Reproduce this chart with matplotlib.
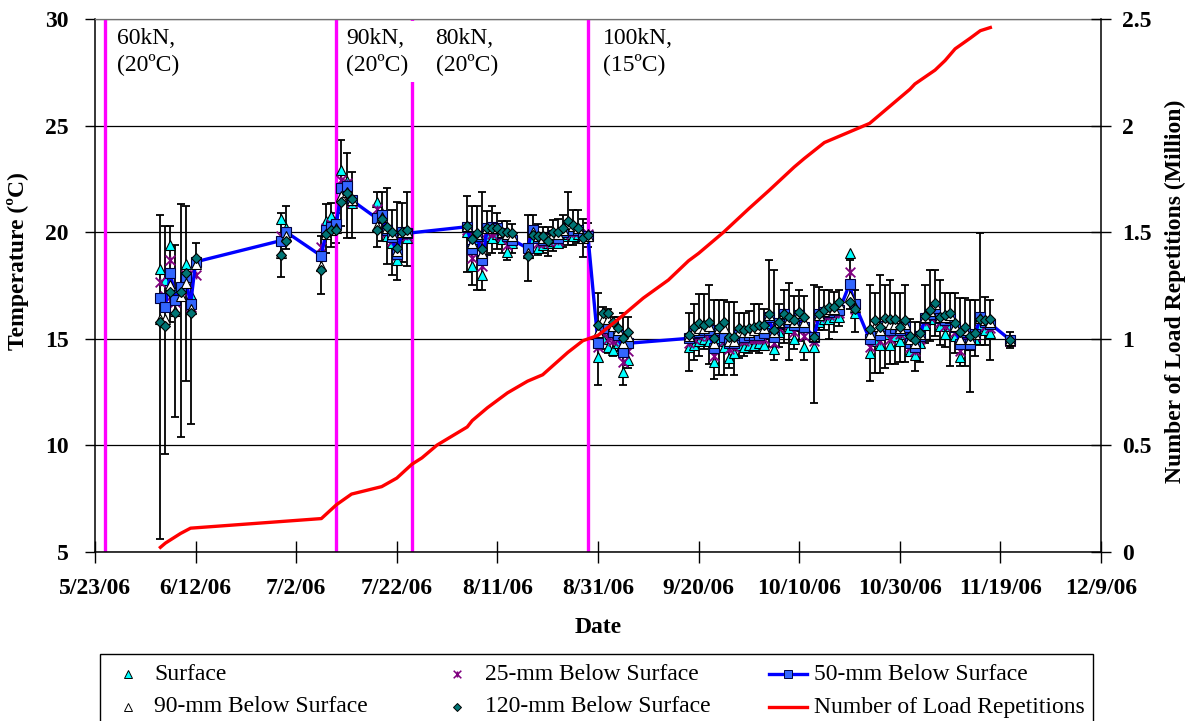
import numpy as np
import pandas as pd
import matplotlib
matplotlib.use("Agg")
import matplotlib.pyplot as plt
from matplotlib.lines import Line2D
from matplotlib.patches import Rectangle
from matplotlib.path import Path

plt.rcParams['font.family'] = ['Liberation Serif', 'DejaVu Serif']

# ---------------------------------------------------------------- data
obs_dates = [
    "6/5/06", "6/6/06", "6/7/06", "6/8/06", "6/9/06", "6/10/06", "6/11/06", "6/12/06",
    "6/29/06", "6/30/06", "7/7/06", "7/8/06", "7/9/06", "7/10/06", "7/11/06", "7/12/06",
    "7/13/06", "7/18/06", "7/19/06", "7/20/06", "7/21/06", "7/22/06", "7/23/06", "7/24/06",
    "8/5/06", "8/6/06", "8/7/06", "8/8/06", "8/9/06", "8/10/06", "8/11/06", "8/12/06",
    "8/13/06", "8/14/06", "8/17/06", "8/18/06", "8/19/06", "8/20/06", "8/21/06", "8/22/06",
    "8/23/06", "8/24/06", "8/25/06", "8/26/06", "8/27/06", "8/28/06", "8/29/06",
    "8/31/06", "9/1/06", "9/2/06", "9/3/06", "9/4/06", "9/5/06", "9/6/06",
    "9/18/06", "9/19/06", "9/20/06", "9/21/06", "9/22/06", "9/23/06", "9/24/06", "9/25/06",
    "9/26/06", "9/27/06", "9/28/06", "9/29/06", "9/30/06",
    "10/1/06", "10/2/06", "10/3/06", "10/4/06", "10/5/06", "10/6/06", "10/7/06", "10/8/06",
    "10/9/06", "10/10/06", "10/11/06",
    "10/13/06", "10/14/06", "10/15/06", "10/16/06", "10/17/06", "10/18/06",
    "10/20/06", "10/21/06",
    "10/24/06", "10/25/06", "10/26/06", "10/27/06", "10/28/06", "10/29/06", "10/30/06", "10/31/06",
    "11/1/06", "11/2/06", "11/3/06", "11/4/06", "11/5/06", "11/6/06", "11/7/06", "11/8/06",
    "11/9/06", "11/10/06", "11/11/06", "11/12/06", "11/13/06", "11/14/06", "11/15/06",
    "11/16/06", "11/17/06",
    "11/21/06",
]

t_surface = [
    18.25, 17.75, 19.4, 17.2, 17.5, 18.5, 17.05, 18.7,
    20.6, 20.2, 19.1, 20.5, 20.75, 20.5, 22.9, 22.4, 21.36, 21.43, 20.9, 19.8, 19.5, 18.7, 19.9, 19.7,
    20.0, 18.4, 19.6, 18.0, 19.8, 19.7, 19.9, 19.68, 19.08, 19.5,
    19.0, 19.7, 19.25, 19.4, 19.5, 19.6, 19.5, 19.8, 19.9, 19.8, 19.9, 19.9, 19.9,
    14.15, 15.0, 14.6, 14.46, 14.8, 13.45, 14.0,
    14.6, 14.7, 14.9, 15.0, 14.9, 13.9, 14.9, 14.6, 14.1, 14.3, 14.7, 14.6, 14.7,
    14.7, 14.8, 14.7, 15.5, 14.5, 15.3, 15.7, 15.5, 15.0, 15.6, 14.6,
    14.6, 15.8, 15.9, 15.9, 16.0, 16.0,
    19.0, 16.2,
    14.34, 14.9, 14.7, 15.2, 14.7, 15.1, 14.9, 15.2,
    14.4, 14.23, 14.8, 15.64, 15.9, 16.1, 15.6, 15.2, 15.6, 15.1, 14.12, 14.9, 14.7, 15.0, 15.6, 15.4, 15.28,
    14.9,
]

t_25mm = [
    17.67, 17.0, 18.7, 16.7, 17.3, 18.0, 16.5, 18.0,
    19.8, 20.0, 19.3, 20.2, 20.4, 20.4, 22.45, 22.3, 21.4, 21.1, 20.7, 20.0, 19.6, 18.9, 19.9, 19.8,
    20.1, 18.8, 19.7, 18.4, 20.0, 19.9, 20.0, 19.8, 19.4, 19.6,
    19.1, 19.9, 19.5, 19.5, 19.6, 19.7, 19.6, 19.9, 20.0, 20.0, 20.0, 19.8, 19.9,
    14.6, 15.3, 15.0, 14.9, 15.0, 13.9, 14.4,
    14.8, 15.0, 15.1, 15.2, 15.1, 14.2, 15.1, 14.9, 14.5, 14.6, 15.0, 14.9, 15.0,
    15.0, 15.0, 15.0, 15.8, 14.8, 15.5, 15.9, 15.7, 15.3, 15.9, 15.1,
    14.9, 16.0, 16.1, 16.1, 16.2, 16.2,
    18.12, 16.4,
    14.62, 15.1, 14.9, 15.4, 15.0, 15.3, 15.2, 15.4,
    14.6, 14.4, 15.0, 15.8, 16.0, 16.3, 15.8, 15.6, 15.8, 15.3, 14.4, 15.1, 14.8, 15.1, 15.8, 15.6, 15.5,
    14.9,
]

t_50mm = [
    16.89, 16.5, 18.1, 16.8, 17.4, 17.9, 16.6, 18.6,
    19.6, 20.0, 18.88, 20.1, 20.25, 20.38, 22.06, 22.16, 21.5, 20.65, 20.8, 20.1, 19.75, 18.97, 20.0, 19.94,
    20.25, 19.2, 19.8, 18.7, 20.18, 20.25, 20.18, 19.94, 19.8, 19.63,
    19.24, 20.1, 19.7, 19.63, 19.7, 19.86, 19.7, 20.0, 20.2, 20.1, 20.1, 19.8, 19.8,
    14.78, 15.56, 15.48, 15.32, 15.17, 14.38, 14.78,
    15.01, 15.24, 15.32, 15.40, 15.40, 14.54, 15.40, 15.08, 14.78, 14.78, 15.17, 15.08, 15.17,
    15.17, 15.17, 15.24, 16.0, 15.08, 15.72, 16.15, 15.8, 15.64, 16.09, 15.56,
    15.08, 16.15, 16.25, 16.25, 16.33, 16.33,
    17.56, 16.64,
    14.97, 15.33, 15.17, 15.6, 15.40, 15.48, 15.40, 15.56,
    14.78, 14.6, 15.1, 15.95, 16.15, 16.45, 15.95, 15.87, 15.95, 15.56, 14.73, 15.3, 14.73, 15.2, 16.0, 15.8, 15.69,
    14.93,
]

t_90mm = [
    15.9, 15.9, 17.5, 16.3, 17.0, 17.6, 16.4, 18.5,
    19.0, 19.8, 18.4, 19.9, 20.1, 20.2, 21.7, 21.9, 21.5, 20.3, 20.7, 20.2, 19.9, 19.1, 20.0, 20.0,
    20.3, 19.5, 19.9, 19.0, 20.2, 20.2, 20.2, 20.0, 19.9, 19.8,
    19.0, 20.0, 19.8, 19.7, 19.7, 19.9, 19.9, 20.1, 20.4, 20.3, 20.2, 19.7, 19.8,
    15.3, 15.9, 15.9, 15.6, 15.4, 14.8, 15.1,
    15.1, 15.4, 15.5, 15.5, 15.6, 14.8, 15.5, 15.5, 14.9, 14.9, 15.3, 15.3, 15.3,
    15.4, 15.5, 15.5, 16.1, 15.3, 15.8, 16.2, 15.9, 15.8, 16.2, 15.8,
    15.1, 16.1, 16.3, 16.4, 16.4, 16.6,
    17.0, 16.5,
    15.2, 15.6, 15.4, 15.8, 15.7, 15.7, 15.5, 15.7,
    15.0, 14.8, 15.2, 16.0, 16.3, 16.6, 16.0, 16.0, 16.1, 15.6, 15.0, 15.4, 15.0, 15.2, 15.95, 15.85, 15.8,
    14.93,
]

t_120mm = [
    15.8, 15.6, 17.2, 16.2, 17.2, 18.1, 16.2, 18.8,
    18.9, 19.6, 18.2, 19.9, 20.1, 20.1, 21.43, 21.85, 21.55, 20.1, 20.6, 20.25, 20.0, 19.24, 20.0, 20.1,
    20.29, 19.66, 19.95, 19.2, 20.2, 20.2, 20.2, 20.0, 20.0, 19.94,
    18.88, 19.86, 19.8, 19.8, 19.6, 20.0, 20.0, 20.18, 20.5, 20.33, 20.2, 19.7, 19.86,
    15.64, 16.19, 16.2, 15.8, 15.5, 15.01, 15.32,
    15.15, 15.56, 15.72, 15.64, 15.8, 15.01, 15.56, 15.8, 15.08, 15.08, 15.5, 15.40, 15.48,
    15.56, 15.64, 15.64, 16.15, 15.40, 15.8, 16.15, 16.0, 15.87, 16.25, 15.99,
    15.08, 16.15, 16.33, 16.49, 16.49, 16.72,
    16.72, 16.37,
    15.44, 15.85, 15.56, 15.95, 15.9, 15.9, 15.56, 15.87,
    15.1, 14.93, 15.25, 16.06, 16.35, 16.69, 16.03, 16.11, 16.19, 15.72, 15.33, 15.56, 15.12, 15.25, 15.9, 15.87, 15.9,
    14.93,
]

# daily minimum / maximum at 50 mm depth
t_min = [
    5.6, 9.6, 15.8, 11.3, 10.4, 13.0, 11.0, 18.3,
    17.9, 19.2, 17.1, 19.0, 19.3, 19.5, 20.3, 19.7, 19.7, 19.3, 19.6, 18.5, 17.98, 17.75, 18.6, 18.4,
    18.14, 17.5, 17.3, 17.3, 18.9, 19.0, 19.2, 19.0, 18.7, 19.0,
    17.72, 19.0, 18.9, 19.0, 18.88, 19.1, 19.24, 19.3, 19.4, 19.4, 19.5, 18.84, 19.3,
    12.8, 14.5, 14.3, 14.2, 14.4, 12.82, 13.6,
    13.5, 14.0, 14.2, 14.5, 13.8, 13.1, 13.3, 13.3, 13.6, 13.3, 14.1, 14.2, 14.3,
    14.4, 14.3, 14.5, 14.6, 14.0, 14.6, 14.8, 14.0, 14.5, 14.9, 14.0,
    11.96, 15.4, 15.4, 15.0, 15.3, 15.6,
    16.4, 15.3,
    13.0, 13.4, 13.4, 13.6, 13.8, 13.8, 13.9, 13.9,
    14.2, 13.5, 13.9, 14.8, 14.9, 15.1, 14.7, 14.6, 13.7, 14.3, 13.7, 13.7, 12.5, 14.2, 14.7, 14.7, 14.0,
    14.55,
]

t_max = [
    20.8, 20.3, 20.3, 19.4, 21.3, 21.2, 17.8, 19.5,
    20.9, 21.2, 19.8, 21.3, 21.35, 20.9, 24.3, 23.7, 22.8, 21.9, 21.9, 22.07, 21.03, 21.4, 21.35, 21.9,
    21.7, 21.2, 21.2, 21.9, 21.0, 21.2, 20.9, 20.5, 20.5, 20.4,
    20.8, 20.8, 20.4, 20.25, 20.25, 20.56, 20.6, 20.8, 21.9, 21.03, 21.03, 20.6, 20.42,
    17.13, 16.5, 16.4, 16.0, 16.0, 16.19, 16.0,
    16.2, 16.6, 17.1, 17.1, 17.5, 16.8, 16.8, 16.8, 16.7, 16.7, 16.2, 16.2, 16.3,
    16.6, 16.6, 16.4, 18.7, 18.2, 16.6, 17.3, 17.6, 17.0, 17.3, 17.0,
    17.5, 17.4, 17.3, 17.3, 17.2, 17.3,
    18.7, 17.3,
    17.5, 17.13, 18.0, 17.5, 17.75, 17.13, 17.13, 17.5,
    15.9, 15.8, 15.8, 17.52, 18.2, 18.2, 17.75, 17.13, 17.13, 17.13, 16.9, 16.9, 16.8, 16.8, 19.94, 16.95, 16.8,
    15.33,
]

load_dates = [
    "6/5/06", "6/6/06", "6/7/06", "6/8/06", "6/9/06", "6/11/06",
    "7/7/06", "7/10/06", "7/13/06", "7/19/06", "7/22/06", "7/25/06", "7/27/06", "7/30/06",
    "8/5/06", "8/6/06", "8/9/06", "8/13/06", "8/17/06", "8/20/06", "8/25/06", "8/28/06", "8/31/06",
    "9/4/06", "9/9/06", "9/14/06", "9/18/06", "9/20/06", "9/25/06", "9/30/06",
    "10/4/06", "10/9/06", "10/11/06", "10/15/06", "10/18/06", "10/24/06", "10/26/06",
    "11/1/06", "11/2/06", "11/6/06", "11/8/06", "11/10/06", "11/13/06", "11/15/06", "11/17/06",
]
load_million = [
    0.02, 0.04, 0.055, 0.07, 0.085, 0.11,
    0.155, 0.22, 0.27, 0.305, 0.345, 0.41, 0.44, 0.50,
    0.585, 0.615, 0.675, 0.745, 0.80, 0.83, 0.935, 0.99, 1.015,
    1.09, 1.19, 1.275, 1.365, 1.40, 1.50, 1.61,
    1.695, 1.805, 1.845, 1.92, 1.95, 2.01, 2.05,
    2.17, 2.195, 2.26, 2.305, 2.36, 2.41, 2.445, 2.46,
]

phase_change_dates = ["5/25/06", "7/10/06", "7/25/06", "8/29/06"]
phase_labels = ["60kN,\n(20ºC)", "90kN,\n(20ºC)", "80kN,\n(20ºC)", "100kN,\n(15ºC)"]

series_names = ["Surface", "25-mm Below Surface", "50-mm Below Surface",
                "90-mm Below Surface", "120-mm Below Surface", "Number of Load Repetitions"]

x_start, x_end = "5/23/06", "12/9/06"
temp_ticks = [5, 10, 15, 20, 25, 30]
load_ticks = [0, 0.5, 1, 1.5, 2, 2.5]
load_tick_labels = ["0", "0.5", "1", "1.5", "2", "2.5"]

# ---------------------------------------------------------------- styling
FS = 17
CYAN = "#00FFFF"
PURPLE = "#800080"
BLUE_LINE = "#0000FF"
BLUE_FILL = "#3366FF"
TEAL = "#007575"
MAGENTA = "#FF00FF"
RED = "#FF0000"

# Excel-style asterisk: an X with a short vertical stroke
star = Path([(-1, -1), (1, 1), (-1, 1), (1, -1), (0, -0.8), (0, 0.8)],
            [Path.MOVETO, Path.LINETO, Path.MOVETO, Path.LINETO, Path.MOVETO, Path.LINETO])


def to_dt(values):
    return pd.to_datetime(values, format="%m/%d/%y")


x = to_dt(obs_dates)
t50 = np.array(t_50mm)
err = [np.maximum(t50 - np.array(t_min), 0), np.maximum(np.array(t_max) - t50, 0)]

W, H = 1189, 721
fig = plt.figure(figsize=(W / 100, H / 100), dpi=100)
ax_l, ax_r, ax_t, ax_b = 95, 1101, 19, 551.6
ax = fig.add_axes([ax_l / W, 1 - ax_b / H, (ax_r - ax_l) / W, (ax_b - ax_t) / H])

# horizontal grid
ax.set_ylim(5, 30)
ax.set_yticks(temp_ticks)
ax.grid(axis="y", color="black", lw=0.9, zorder=0)
ax.set_axisbelow(True)

# phase boundaries
for d in to_dt(phase_change_dates):
    ax.axvline(d, color=MAGENTA, lw=2.4, zorder=2.2)

ax.errorbar(x, t50, yerr=err, fmt="none", ecolor="black", elinewidth=1.3,
            capsize=3.2, capthick=1.3, zorder=2)
ax.plot(x, t_surface, ls="none", marker="^", ms=7.5, mfc=CYAN, mec="black", mew=0.8, zorder=3)
ax.plot(x, t_25mm, ls="none", marker=star, ms=7, color=PURPLE, mew=1.3, zorder=4)
ax.plot(x, t_50mm, "-", color=BLUE_LINE, lw=2.4, marker="s", ms=6.5, mfc=BLUE_FILL,
        mec="#000040", mew=0.8, zorder=5)
ax.plot(x, t_90mm, ls="none", marker="^", ms=6.5, mfc="white", mec="black", mew=0.8, zorder=6)
ax.plot(x, t_120mm, ls="none", marker="D", ms=5.2, mfc=TEAL, mec="black", mew=0.8, zorder=7)

# load phase annotations (drawn under the axes frame so the top border stays visible)
label_offsets_days = [2.4, 1.9, 4.7, 3.0]
for d, off, lab in zip(to_dt(phase_change_dates), label_offsets_days, phase_labels):
    kw = {}
    if lab.startswith("90"):
        kw["bbox"] = dict(facecolor="white", edgecolor="none", boxstyle="square,pad=0.3")
    ax.text(d + pd.Timedelta(days=off), 0.983, lab, transform=ax.get_xaxis_transform(),
            ha="left", va="top", fontsize=FS, linespacing=1.25, zorder=2.4, **kw)

# x axis
ax.set_xlim(to_dt([x_start])[0], to_dt([x_end])[0])
xt = pd.date_range(to_dt([x_start])[0], to_dt([x_end])[0], freq="20D")
ax.set_xticks(xt)
ax.set_xticklabels([f"{d.month}/{d.day}/{d:%y}" for d in xt], fontsize=FS, fontweight="bold")
ax.set_yticklabels([str(v) for v in temp_ticks], fontsize=FS, fontweight="bold")
ax.tick_params(axis="x", direction="inout", length=16, width=1, pad=11)
ax.tick_params(axis="y", direction="out", length=7, width=1, pad=12)
for s in ("left", "bottom"):
    ax.spines[s].set_linewidth(1.1)
ax.spines["top"].set_color("#707070")
ax.spines["top"].set_linewidth(0.9)
ax.spines["right"].set_visible(False)

ax.set_xlabel("Date", fontsize=FS, fontweight="bold")
ax.xaxis.set_label_coords(0.5, -0.1434)
ax.xaxis.label.set_va("center")
ax.set_ylabel("Temperature (ºC)", fontsize=FS, fontweight="bold")
ax.yaxis.set_label_coords(-0.0765, 0.545)
ax.yaxis.label.set_va("center")

# load repetitions on the secondary axis
ax2 = ax.twinx()
ax2.plot(to_dt(load_dates), load_million, color=RED, lw=2.4, zorder=5)
ax2.set_ylim(0, 2.5)
ax2.set_yticks(load_ticks)
ax2.set_yticklabels(load_tick_labels, fontsize=FS, fontweight="bold")
ax2.tick_params(axis="y", direction="inout", length=14, width=1, pad=8)
for s in ("left", "top", "bottom"):
    ax2.spines[s].set_visible(False)
ax2.spines["right"].set_linewidth(1.1)
ax2.set_ylabel("Number of Load Repetitions (Million)", fontsize=FS, fontweight="bold",
               rotation=90)
ax2.yaxis.set_label_coords(1.0736, 0.489)
ax2.yaxis.label.set_va("center")

# ---------------------------------------------------------------- legend
def fx(px):
    return px / W


def fy(py):
    return 1 - py / H


fig.patches.append(Rectangle((fx(100), fy(760)), fx(1093) - fx(100), fy(654) - fy(760),
                             transform=fig.transFigure, fill=False, edgecolor="black",
                             lw=1.0, clip_on=False))

row_y = [674, 707]
col_marker_x = [128, 457, 788]
col_text_x = [154, 485, 814]
handles = [
    dict(marker="^", ms=5.5, mfc=CYAN, mec="black", mew=0.7, ls="none"),
    dict(marker=star, ms=5.5, color=PURPLE, mew=1.1, ls="none"),
    dict(marker="s", ms=5.5, mfc=BLUE_FILL, mec="#000040", mew=0.7, color=BLUE_LINE, lw=2.4),
    dict(marker="^", ms=5.5, mfc="white", mec="black", mew=0.7, ls="none"),
    dict(marker="D", ms=4.5, mfc=TEAL, mec="black", mew=0.7, ls="none"),
    dict(color=RED, lw=2.4),
]
order = [(0, 0), (0, 1), (0, 2), (1, 0), (1, 1), (1, 2)]
for (r, c), name, h in zip(order, series_names, handles):
    yy = fy(row_y[r])
    if h.get("ls") == "none":
        xs, ys = [fx(col_marker_x[c])], [yy]
    else:
        xs = [fx(col_marker_x[c] - 19), fx(col_marker_x[c]), fx(col_marker_x[c] + 19)]
        ys = [yy] * 3
        if "marker" in h:
            h = dict(h, markevery=[1])
    fig.add_artist(Line2D(xs, ys, transform=fig.transFigure, **h))
    fig.text(fx(col_text_x[c]), yy, name, fontsize=FS, ha="left", va="center")

fig.savefig("out.png", dpi=100)
